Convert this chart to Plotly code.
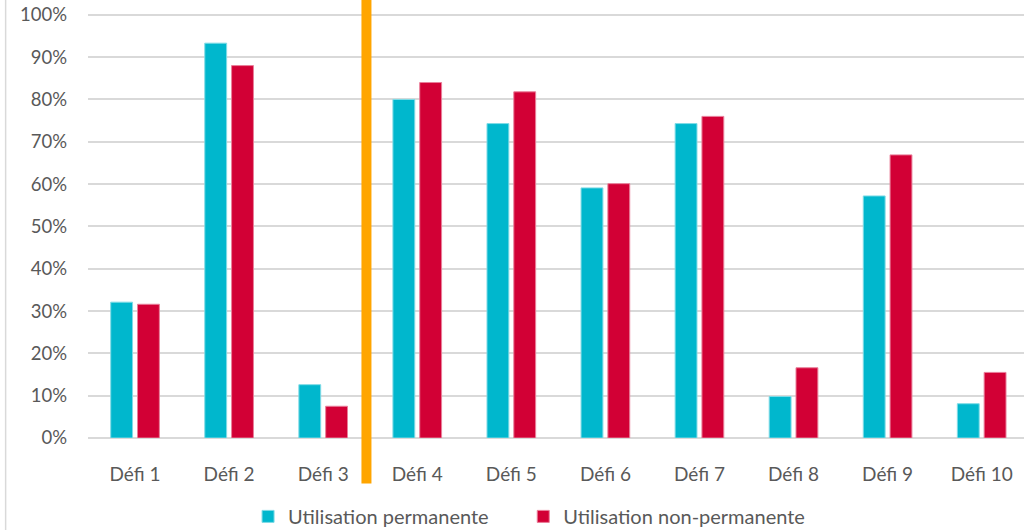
import plotly.graph_objects as go

categories = ['Défi 1', 'Défi 2', 'Défi 3', 'Défi 4', 'Défi 5',
              'Défi 6', 'Défi 7', 'Défi 8', 'Défi 9', 'Défi 10']
permanente = [0.321, 0.933, 0.126, 0.800, 0.743, 0.591, 0.743, 0.098, 0.572, 0.081]
non_permanente = [0.316, 0.880, 0.075, 0.840, 0.818, 0.601, 0.760, 0.166, 0.669, 0.155]

BLUE = '#00B7CD'
RED = '#D20035'
TXT = '#595959'

fig = go.Figure()
fig.add_trace(go.Bar(x=categories, y=permanente, name='Utilisation permanente',
                     legend='legend', showlegend=True,
                     marker=dict(color=BLUE, line=dict(color='#7FDBE6', width=1))))
fig.add_trace(go.Bar(x=categories, y=non_permanente, name='Utilisation non-permanente',
                     legend='legend2', showlegend=True,
                     marker=dict(color=RED, line=dict(color='#E97F9A', width=1))))

# orange separator between Défi 3 and Défi 4
fig.add_shape(type='line', xref='x', yref='paper', x0=2.46, x1=2.46, y0=-0.104, y1=1.01,
              line=dict(color='#FFA500', width=10))
# left frame border
fig.add_shape(type='line', xref='paper', yref='paper', x0=-0.088, x1=-0.088, y0=-0.3, y1=1.05,
              line=dict(color='#D9D9D9', width=1.5))

leg = dict(orientation='h', xanchor='left', y=-0.179, yanchor='middle',
           font=dict(size=20, color=TXT), bgcolor='rgba(0,0,0,0)')
fig.update_layout(
    showlegend=True,
    barmode='group', bargap=0.43, bargroupgap=0.185,
    width=1024, height=530,
    margin=dict(l=88, r=0, t=0, b=91.5, autoexpand=False),
    plot_bgcolor='white', paper_bgcolor='white',
    font=dict(family='Lato, Carlito, sans-serif', size=18, color=TXT),
    legend=dict(leg, x=0.171),
    legend2=dict(leg, x=0.465),
)
fig.update_xaxes(range=[-0.5, 9.45], showgrid=False, showline=False,
                 ticks='outside', ticklen=19, tickcolor='rgba(0,0,0,0)',
                 automargin=False, tickfont=dict(size=19, color=TXT))
fig.update_yaxes(range=[0, 1.035], dtick=0.1, tickformat='.0%', showgrid=True,
                 gridcolor='#D9D9D9', gridwidth=1.5, zeroline=True, zerolinecolor='#D9D9D9',
                 zerolinewidth=1.5, showline=False, ticks='', ticklabelstandoff=20,
                 automargin=False, tickfont=dict(size=18.5, color=TXT))

fig.write_html('out.html', config={'displayModeBar': False},
               post_script="document.body.style.margin='0';")
